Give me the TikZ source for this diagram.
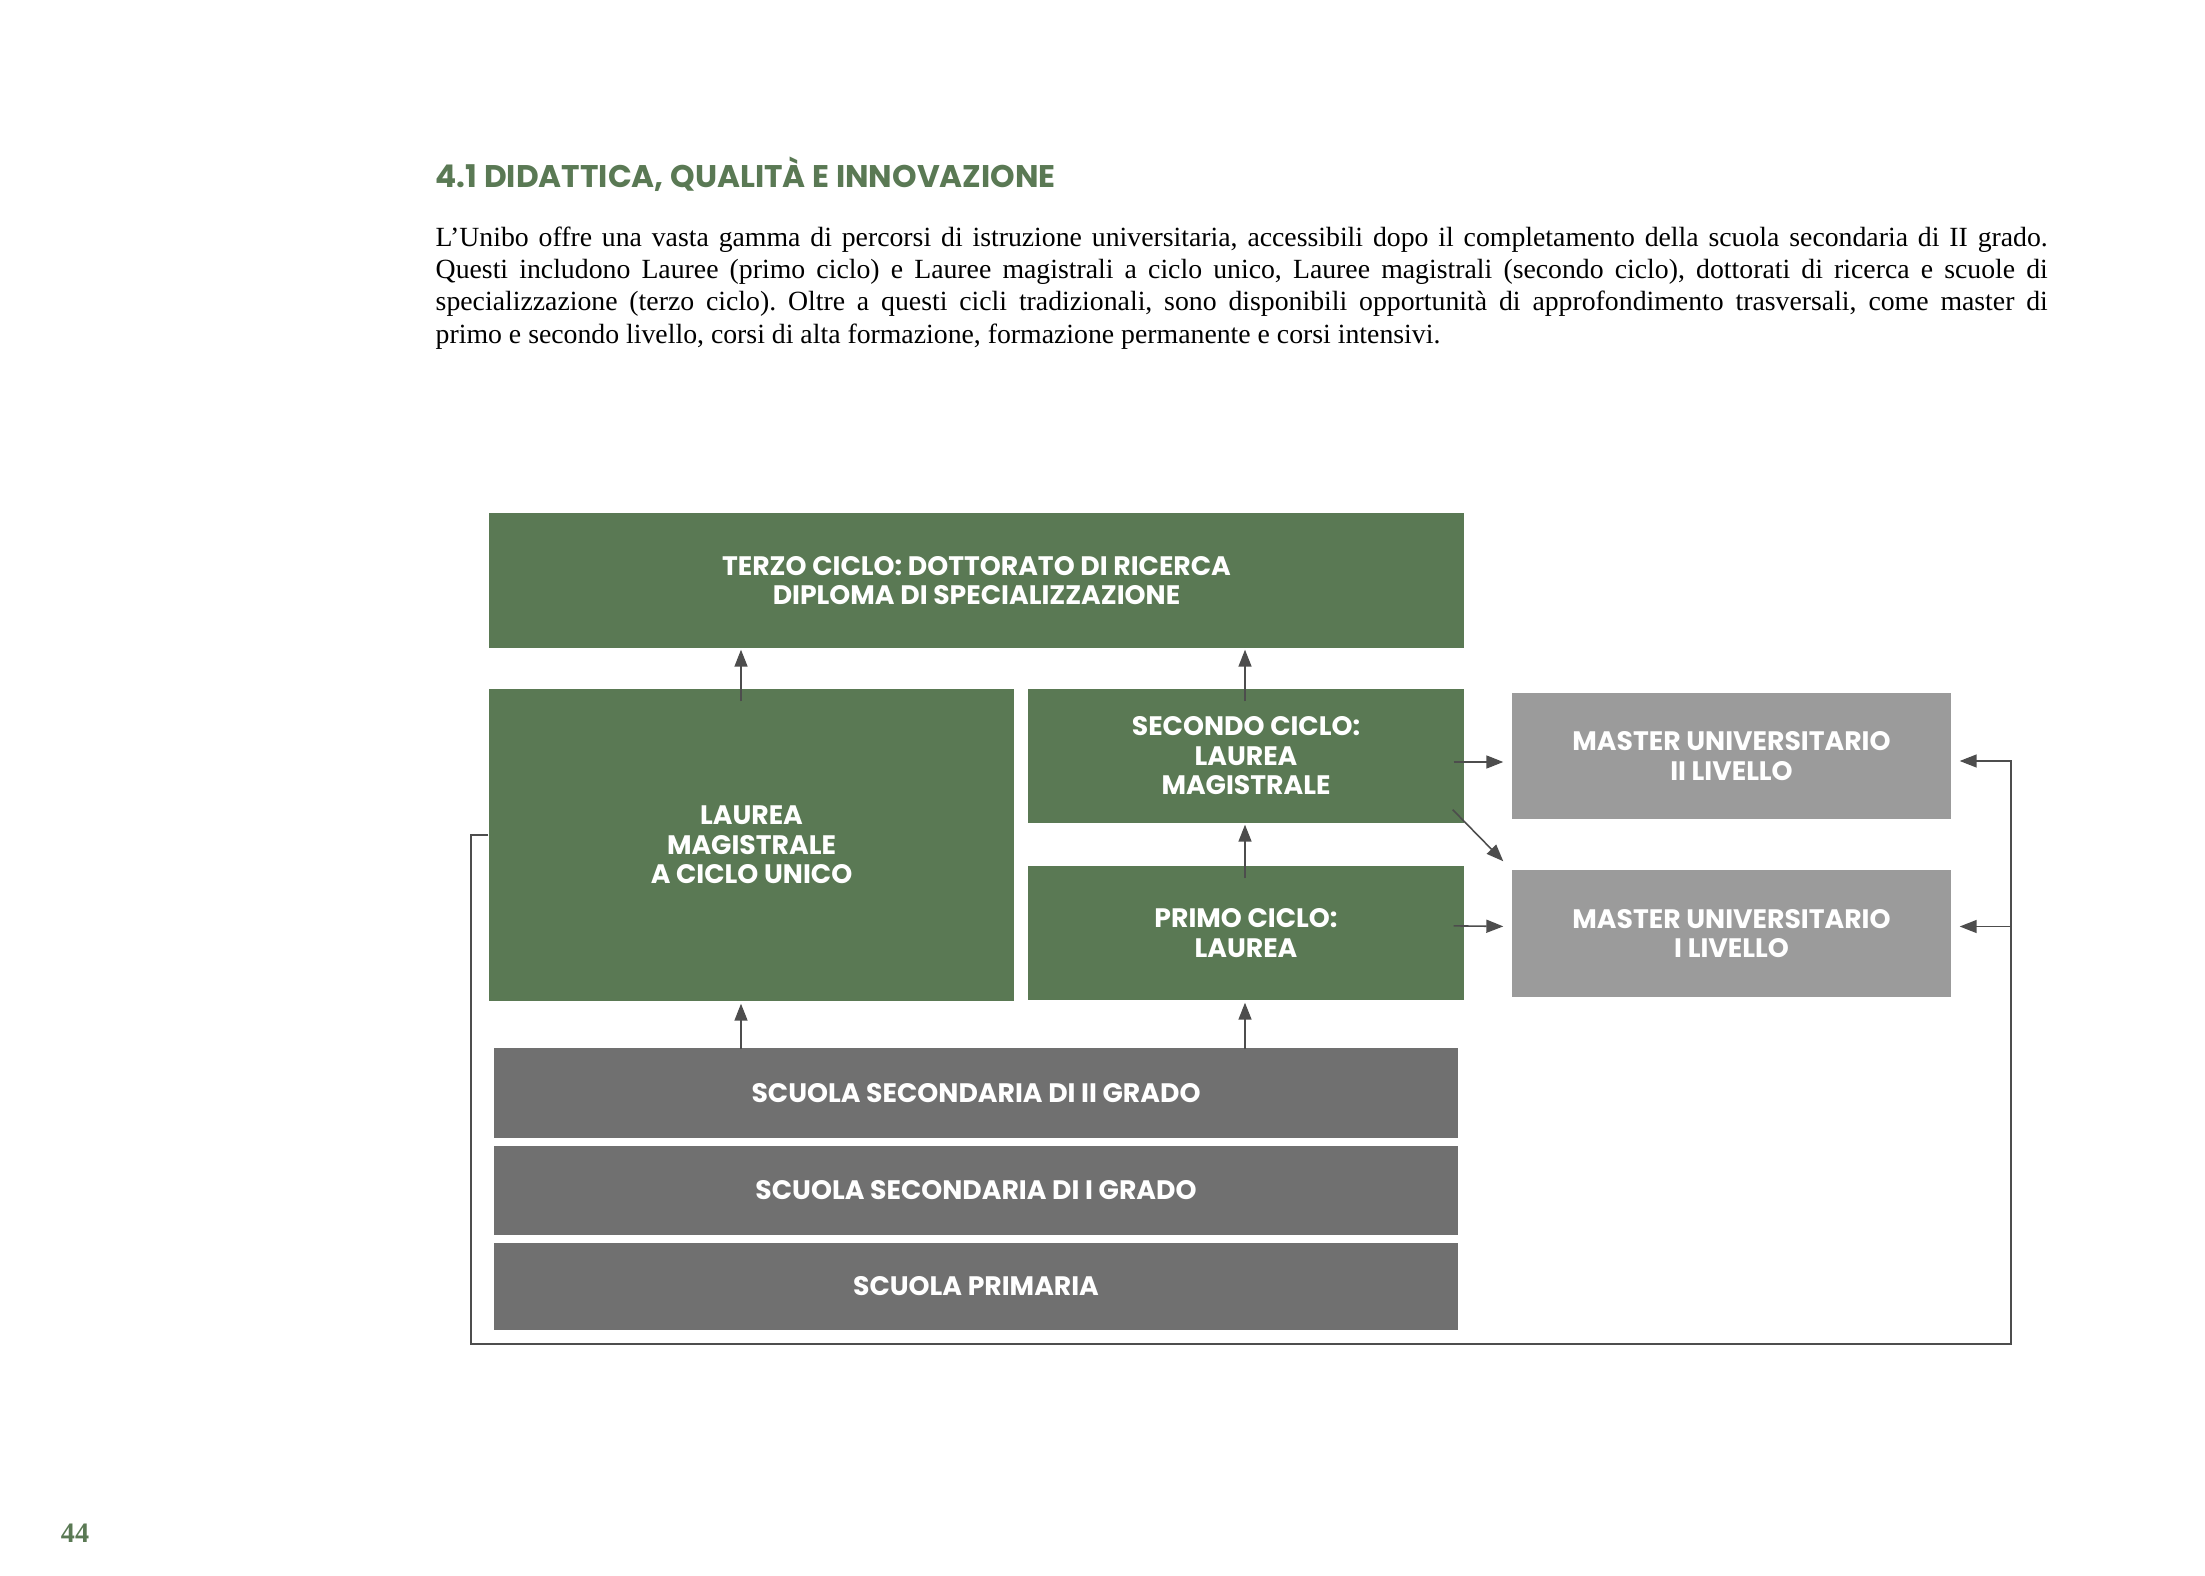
\documentclass[tikz,border=0pt]{standalone}
\usepackage{fontspec}
\setmainfont{Liberation Serif}
\newfontfamily\boxfont{Poppins}
\usetikzlibrary{arrows.meta}
\definecolor{unigreen}{RGB}{90,121,84}
\definecolor{mastergray}{RGB}{155,155,155}
\definecolor{schoolgray}{RGB}{112,112,112}
\definecolor{linegray}{RGB}{77,77,77}

\begin{document}
\begin{tikzpicture}[
    greenbox/.style={fill=unigreen, text=white, align=center, inner sep=0pt, font=\boxfont\bfseries\fontsize{7.6}{8.4}\selectfont},
    mastbox/.style={greenbox, fill=mastergray},
    schoolbox/.style={greenbox, fill=schoolgray, minimum width=9.64cm},
    conn/.style={-{Triangle[length=0.17cm,width=0.13cm]}, line width=0.45pt, color=linegray}]
    \useasboundingbox (0,0) rectangle (22.05,15.75);
    \node[anchor=west, inner sep=0pt, text=unigreen, font=\boxfont\bfseries\fontsize{8.9}{9}\selectfont] (title) at (4.35,14.01) {4.1 DIDATTICA, QUALITÀ E INNOVAZIONE};
    \node[anchor=north west, inner sep=0pt, text width=16.12cm, align=justify, font=\fontsize{7.9}{9.2}\selectfont] (intro) at (4.35,13.49) {\frenchspacing\spaceskip=0.25em plus 0.3em minus 0.05em
        L’Unibo offre una vasta gamma di percorsi di istruzione universitaria, accessibili dopo il completamento della scuola secondaria di II grado.\linebreak
        Questi includono Lauree (primo ciclo) e Lauree magistrali a ciclo unico, Lauree magistrali (secondo ciclo), dottorati di ricerca e scuole di\linebreak
        specializzazione (terzo ciclo). Oltre a questi cicli tradizionali, sono disponibili opportunità di approfondimento trasversali, come master di\linebreak
        primo e secondo livello, corsi di alta formazione, formazione permanente e corsi intensivi.};

    \node[greenbox, minimum width=9.75cm, minimum height=1.35cm] (terzo) at (9.765,9.945) {TERZO CICLO: DOTTORATO DI RICERCA\\DIPLOMA DI SPECIALIZZAZIONE};
    \node[greenbox, minimum width=5.25cm, minimum height=3.12cm] (unico) at (7.515,7.30) {LAUREA\\MAGISTRALE\\A CICLO UNICO};
    \node[greenbox, minimum width=4.36cm, minimum height=1.34cm] (secondo) at (12.46,8.19) {SECONDO CICLO:\\LAUREA\\MAGISTRALE};
    \node[greenbox, minimum width=4.36cm, minimum height=1.34cm] (primo) at (12.46,6.42) {PRIMO CICLO:\\LAUREA};
    \node[mastbox, minimum width=4.39cm, minimum height=1.26cm] (master2) at (17.315,8.19) {MASTER UNIVERSITARIO\\II LIVELLO};
    \node[mastbox, minimum width=4.39cm, minimum height=1.27cm] (master1) at (17.315,6.415) {MASTER UNIVERSITARIO\\I LIVELLO};
    \node[schoolbox, minimum height=0.90cm] (sec2) at (9.76,4.82) {SCUOLA SECONDARIA DI II GRADO};
    \node[schoolbox, minimum height=0.89cm] (sec1) at (9.76,3.845) {SCUOLA SECONDARIA DI I GRADO};
    \node[schoolbox, minimum height=0.87cm] (primaria) at (9.76,2.885) {SCUOLA PRIMARIA};
    \node[text=unigreen, font=\bfseries\fontsize{8}{9}\selectfont] (pagenum) at (0.75,0.42) {44};

    \coordinate (colA) at (7.41,0);
    \coordinate (colB) at (12.45,0);
    \coordinate (loopL) at (4.71,2.31);
    \coordinate (loopR) at (20.11,2.31);
    \coordinate (m1in) at ([yshift=0.07cm]master1.east);

    \draw[conn, shorten <=-0.13cm, shorten >=0.01cm] (colA |- unico.north) -- (colA |- terzo.south);
    \draw[conn, shorten <=-0.13cm, shorten >=0.01cm] (colB |- secondo.north) -- (colB |- terzo.south);
    \draw[conn, shorten <=-0.13cm, shorten >=0.01cm] (colB |- primo.north) -- (colB |- secondo.south);
    \draw[conn, shorten <=-0.02cm, shorten >=0.02cm] (colA |- sec2.north) -- (colA |- unico.south);
    \draw[conn, shorten <=-0.02cm, shorten >=0.02cm] (colB |- sec2.north) -- (colB |- primo.south);
    \draw[conn, shorten <=-0.11cm, shorten >=0.08cm] ([yshift=-0.06cm]secondo.east) -- ([yshift=-0.06cm]master2.west);
    \draw[conn, shorten <=-0.11cm, shorten >=0.08cm] ([yshift=0.07cm]primo.east) -- ([yshift=0.07cm]master1.west);
    \draw[conn] ([shift={(-0.12,0.14)}]secondo.south east) -- ([shift={(-0.08,0.08)}]master1.north west);
    \draw[conn, shorten >=0.08cm] ([yshift=0.10cm]unico.west) -| (loopL) -- (loopR) |- ([yshift=-0.05cm]master2.east);
    \draw[conn, shorten >=0.08cm] (loopR |- m1in) -- (m1in);
\end{tikzpicture}
\end{document}
